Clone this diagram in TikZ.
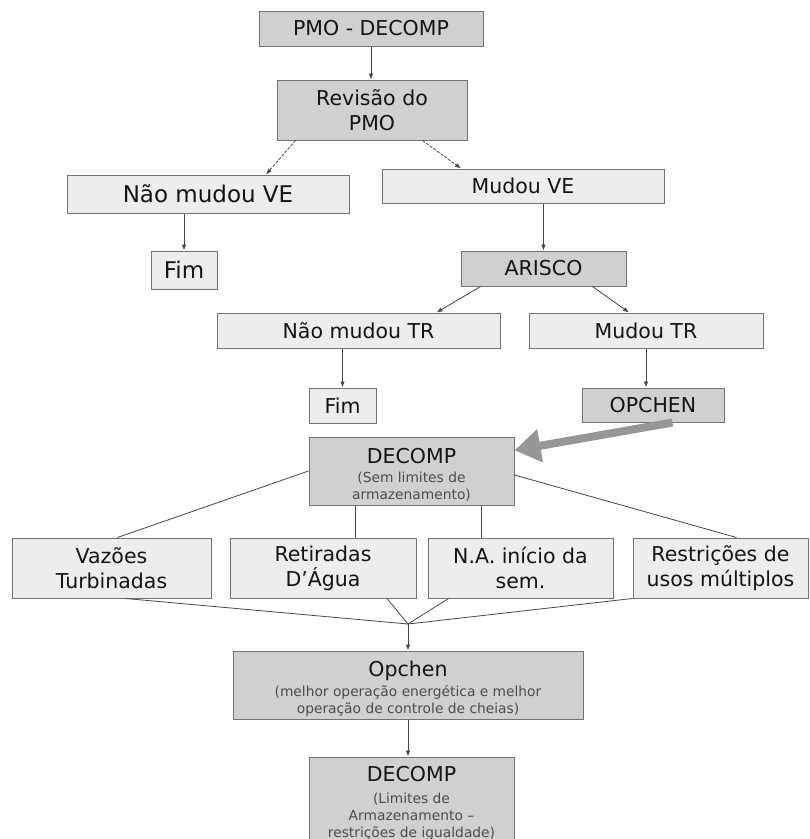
\documentclass[tikz,border=0pt]{standalone}
\usepackage{fontspec}
\setmainfont{DejaVu Sans}
\usetikzlibrary{arrows.meta,positioning,calc}
\definecolor{darkfill}{RGB}{208,208,208}
\definecolor{lightfill}{RGB}{237,237,237}
\definecolor{edgegray}{RGB}{115,115,115}
\definecolor{linegray}{RGB}{70,70,70}
\definecolor{bigarrow}{RGB}{150,150,150}
\newcommand{\bigfont}{\fontsize{23}{27}\selectfont}
\newcommand{\midfont}{\fontsize{20.5}{25}\selectfont}
\newcommand{\smfont}{\fontsize{13.8}{17}\selectfont}
\newcommand{\boxtitle}[1]{{\midfont\color{black!92}\rule{0pt}{23pt}#1}}
\tikzset{
  box/.style={draw=edgegray, line width=1pt, inner sep=0pt, align=center, text=black!92, font=\midfont},
  dark/.style={box, fill=darkfill},
  light/.style={box, fill=lightfill},
  note/.style={font=\smfont, text=black!70},
  link/.style={draw=linegray, line width=0.8pt},
  flow/.style={link, -{Latex[length=6pt,width=4.5pt]}},
  dflow/.style={flow, dash pattern=on 3pt off 1.5pt},
  jump/.style={draw=bigarrow, line width=8pt, -{Triangle[length=26pt,width=32pt]}}
}

\begin{document}
\begin{tikzpicture}[x=1pt, y=-1pt]
  \useasboundingbox (0,0) rectangle (810,839);
  \node[dark, minimum width=224pt, minimum height=35pt] (pmo) at (371,28.5) {PMO - DECOMP};
  \node[dark, minimum width=190pt, minimum height=60pt] (rev) at (372,110) {Revisão do\\PMO};
  \node[light, minimum width=282pt, minimum height=38pt, font=\bigfont] (naove) at (208,194) {Não mudou VE};
  \node[light, minimum width=282pt, minimum height=34pt] (mudouve) at (523,186) {Mudou VE};
  \node[light, minimum width=66pt, minimum height=38pt, font=\bigfont] (fimA) at (184,270) {Fim};
  \node[dark, minimum width=165pt, minimum height=35pt] (arisco) at (543.5,268.5) {ARISCO};
  \node[light, minimum width=283pt, minimum height=35pt] (naotr) at (358.5,330.5) {Não mudou TR};
  \node[light, minimum width=234pt, minimum height=35pt] (mudoutr) at (646,330.5) {Mudou TR};
  \node[light, minimum width=67pt, minimum height=35pt] (fimB) at (342.5,405.5) {Fim};
  \node[dark, minimum width=142pt, minimum height=34pt] (opchenA) at (653,405) {OPCHEN};
  \node[dark, minimum width=205pt, minimum height=68pt, note] (decompA) at (411.5,471)
    {\boxtitle{DECOMP}\\[2pt](Sem limites de\\armazenamento)};
  \node[light, minimum width=199pt, minimum height=60pt] (vazoes) at (111.5,568) {Vazões\\Turbinadas};
  \node[light, minimum width=186pt, minimum height=60pt] (retiradas) at (323,568) {Retiradas\\D’Água};
  \node[light, minimum width=185pt, minimum height=60pt] (na) at (520.5,568) {N.A. início da\\sem.};
  \node[light, minimum width=175pt, minimum height=60pt] (restr) at (720.5,568) {Restrições de\\usos múltiplos};
  \node[dark, minimum width=350pt, minimum height=68pt, note] (opchenB) at (408,685)
    {\boxtitle{Opchen}\\[3pt](melhor operação energética e melhor\\operação de controle de cheias)};
  \node[dark, minimum width=205pt, minimum height=92pt, note] (decompB) at (411.5,803)
    {{\midfont\color{black!92}DECOMP}\\[5pt](Limites de\\Armazenamento –\\restrições de igualdade)};
  \coordinate (merge) at (408,624);

  \draw[flow] (pmo.south) -- (pmo.south |- rev.north);
  \draw[dflow] ([xshift=19pt]rev.south west) -- ([xshift=58pt]naove.north);
  \draw[dflow] ([xshift=-45pt]rev.south east) -- ([xshift=-62pt]mudouve.north);
  \draw[flow] (fimA.north |- naove.south) -- (fimA.north);
  \draw[flow] (arisco.north |- mudouve.south) -- (arisco.north);
  \draw[flow] ([xshift=20pt]arisco.south west) -- ([xshift=78pt]naotr.north);
  \draw[flow] ([xshift=-34pt]arisco.south east) -- ([xshift=-17pt]mudoutr.north);
  \draw[flow] (fimB.north |- naotr.south) -- (fimB.north);
  \draw[flow] (mudoutr.south) -- (mudoutr.south |- opchenA.north);
  \draw[jump] ([xshift=-52pt]opchenA.south east) -- ($(decompA.north east)!0.2!(decompA.south east)$);

  \draw[link] (decompA.west) -- ([xshift=6pt]vazoes.north);
  \draw[link] ([xshift=-56pt]decompA.south) -- ([xshift=-56pt]decompA.south |- retiradas.north);
  \draw[link] ([xshift=70pt]decompA.south) -- ([xshift=70pt]decompA.south |- na.north);
  \draw[link] ([yshift=-4pt]decompA.east) -- ([xshift=16pt]restr.north);
  \draw[link] ([xshift=14pt]vazoes.south) -- (merge);
  \draw[link] ([xshift=64pt]retiradas.south) -- (merge);
  \draw[link] ([xshift=-72pt]na.south) -- (merge);
  \draw[link] (restr.south west) -- (merge);
  \draw[flow] (merge) -- (opchenB.north);
  \draw[flow] (opchenB.south) -- (opchenB.south |- decompB.north);
\end{tikzpicture}
\end{document}
